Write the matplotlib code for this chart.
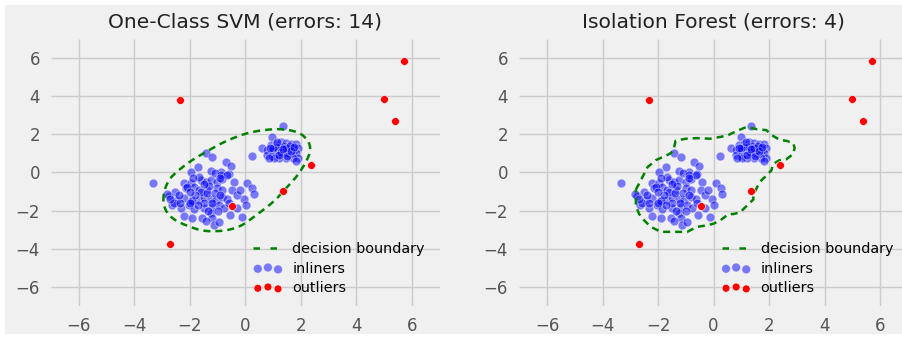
import numpy as np
import matplotlib
matplotlib.use("Agg")
import matplotlib.pyplot as plt
from matplotlib.path import Path
from matplotlib.patches import PathPatch, Rectangle
from matplotlib.lines import Line2D

plt.style.use("fivethirtyeight")
plt.rcParams["font.family"] = ["DejaVu Sans"]

# ---- data -------------------------------------------------------------
inlier_x = [
    -1.43, -1.19, -0.71, -0.53, -1.70, -1.97, -1.23, -0.89, -0.59, -3.32,
    -2.21, -1.97, -1.61, -1.43, -1.25, -1.01, -0.83, -0.41, 0.07, 0.25,
    -2.52, -2.15, -1.85, -1.67, -1.37, -1.01, -0.83, -0.47, 0.31, -2.76,
    -2.45, -2.21, -1.91, -1.67, -1.49, -1.25, -1.07, -0.83, -0.65, -0.05,
    0.01, -2.64, -2.33, -2.03, -1.85, -1.49, -1.19, -0.95, -0.77, -2.21,
    -1.91, -1.55, -1.25, -1.19, -0.55, -0.14, -1.13, -0.95, -1.43, -1.67,
    -2.82, -2.09, -2.58, -2.34, -1.91, -1.11, -0.87, -0.65, -0.31, -1.49,
    -1.60, -1.40, -1.30, -1.10, -1.80, -2.00, -1.50, -0.90, -1.20, -1.70,
    -2.40, -1.00, -0.60, -1.35, -2.00, -0.30, -0.20, -0.90, -1.90, -2.70,
    # right-hand cluster
    1.34, 0.23, 0.97, 0.61, 0.79, 0.91, 1.09, 1.27, 1.45, 1.64,
    1.82, 1.88, 1.70, 1.52, 1.34, 1.16, 0.97, 0.79, 0.97, 1.16,
    1.34, 1.52, 1.70, 1.82, 1.88, 1.70, 1.45, 1.21, 1.03, 0.85,
    1.82, 1.25, 1.40, 1.55, 1.10, 1.30, 1.45, 1.60, 1.20, 1.50,
    1.00, 1.35, 1.65, 1.75, 0.90, 1.15,
]
inlier_y = [
    1.03, 0.80, 0.55, 0.34, 0.29, 0.00, 0.09, 0.00, -0.10, -0.56,
    -0.56, -0.53, -0.39, -0.48, -0.39, -0.48, -0.36, -0.48, -0.56, -0.82,
    -1.04, -0.82, -0.74, -0.91, -0.91, -0.82, -0.91, -0.94, -1.11, -1.21,
    -1.42, -1.33, -1.42, -1.42, -1.28, -1.38, -1.42, -1.28, -1.38, -1.38,
    -1.68, -1.73, -1.85, -1.68, -1.93, -1.85, -1.79, -1.73, -1.85, -2.27,
    -2.39, -2.39, -2.10, -2.41, -2.22, -2.31, -2.75, -2.62, -2.53, -0.22,
    -1.11, -0.77, -1.59, -1.59, -1.51, -0.02, -0.14, -0.14, -1.85, -1.59,
    -1.00, -1.10, -0.70, -1.10, -1.20, -1.00, -0.60, -1.20, -1.60, -1.70,
    -1.20, -2.00, -1.60, -2.00, -1.60, -1.20, -0.90, -0.30, -0.30, -1.40,
    # right-hand cluster
    2.41, 0.87, 1.85, 1.28, 1.16, 1.42, 1.50, 1.59, 1.55, 1.50,
    1.50, 1.25, 1.25, 1.28, 1.25, 1.21, 1.11, 0.90, 0.87, 0.94,
    0.99, 0.99, 0.99, 0.99, 0.73, 0.77, 0.77, 0.73, 0.73, 0.77,
    0.59, 1.35, 1.40, 1.15, 1.35, 1.05, 1.30, 1.40, 0.90, 0.85,
    1.25, 1.20, 1.10, 1.35, 1.30, 1.60,
]
outlier_x = [-2.34, 4.99, 5.71, 5.39, 2.38, 1.34, -0.47, -2.70]
outlier_y = [3.81, 3.86, 5.81, 2.68, 0.41, -0.96, -1.76, -3.73]

# One-Class SVM decision boundary (closed curve through these nodes)
svm_bx = [-2.94, -2.88, -2.58, -2.09, -1.49, -0.77, -0.17, 0.43, 1.03, 1.52,
          1.88, 2.18, 2.33, 2.24, 1.88, 1.16, 0.19, -0.65, -1.43, -2.09, -2.70]
svm_by = [-1.16, -1.93, -2.44, -2.79, -3.05, -3.04, -2.79, -2.19, -1.50, -0.74,
          -0.14, 0.55, 1.15, 1.66, 2.09, 2.26, 2.09, 1.66, 1.06, 0.46, -0.31]

# Isolation Forest decision boundary (closed polyline)
iso_bx = [-2.80, -2.62, -2.38, -2.08, -1.61, -1.45, -1.37, -1.01, -0.60, -0.12,
          0.30, 0.54, 0.83, 1.19, 1.55, 1.90, 2.08, 2.38, 2.62, 2.86,
          2.92, 2.86, 2.62, 2.38, 2.14, 2.08, 1.85, 1.67, 1.55, 1.43,
          1.43, 1.19, 0.95, 0.71, 0.54, 0.24, 0.00, -0.24, -0.60, -0.95,
          -1.37, -1.90, -2.26, -2.50, -2.68, -2.80, -2.80]
iso_by = [-0.91, -0.41, 0.27, 0.64, 0.95, 1.11, 1.65, 1.76, 1.79, 1.76,
          1.87, 1.96, 2.16, 2.38, 2.26, 2.21, 1.96, 1.70, 1.65, 1.54,
          1.28, 0.95, 0.69, 0.64, 0.44, 0.10, -0.24, -0.49, -0.83, -1.16,
          -1.42, -1.76, -2.09, -2.18, -2.18, -2.51, -2.68, -2.77, -2.85, -3.11,
          -3.11, -3.11, -2.85, -2.51, -2.18, -1.76, -1.33]

titles = ["One-Class SVM (errors: 14)", "Isolation Forest (errors: 4)"]
ticks = [-6, -4, -2, 0, 2, 4, 6]

BG = "#f0f0f0"
BOUNDARY = "green"


def smooth_closed_path(xs, ys):
    """Closed Catmull-Rom curve through the nodes, as cubic Bezier segments."""
    p = np.column_stack([xs, ys])
    n = len(p)
    verts = [p[0]]
    codes = [Path.MOVETO]
    for i in range(n):
        p0, p1, p2, p3 = p[i - 1], p[i], p[(i + 1) % n], p[(i + 2) % n]
        verts += [p1 + (p2 - p0) / 6.0, p2 - (p3 - p1) / 6.0, p2]
        codes += [Path.CURVE4] * 3
    return Path(verts, codes)


def polyline_closed_path(xs, ys):
    p = np.column_stack([xs, ys])
    verts = np.vstack([p, p[:1]])
    codes = [Path.MOVETO] + [Path.LINETO] * (len(p) - 1) + [Path.LINETO]
    return Path(verts, codes)


W, H = 903, 338
fig = plt.figure(figsize=(W / 100, H / 100), dpi=100, facecolor="white")
# grey canvas with a thin white margin on the left, top and bottom
fig.patches.append(Rectangle((5 / W, 4 / H), 1 - 5 / W, 1 - 9 / H,
                             transform=fig.transFigure, facecolor=BG,
                             edgecolor="none", zorder=-10))

ax_rects = [[0.0565, 0.094, 0.4305, 0.792], [0.5750, 0.094, 0.4305, 0.792]]
paths = [smooth_closed_path(svm_bx, svm_by), polyline_closed_path(iso_bx, iso_by)]

for rect, title, path in zip(ax_rects, titles, paths):
    ax = fig.add_axes(rect)
    ax.set_facecolor(BG)
    ax.grid(True, color="#cbcbcb", linewidth=1.0)
    ax.set_axisbelow(True)
    for s in ax.spines.values():
        s.set_visible(False)

    ax.add_patch(PathPatch(path, fill=False, edgecolor=BOUNDARY, linewidth=1.8,
                           linestyle=(0, (2.8, 2.0)), zorder=3))
    inl = ax.scatter(inlier_x, inlier_y, s=40, c="blue", alpha=0.5,
                     edgecolors="white", linewidths=0.6, zorder=2)
    outl = ax.scatter(outlier_x, outlier_y, s=32, c="red",
                      edgecolors="white", linewidths=0.4, zorder=4)

    ax.set_xlim(-7, 7)
    ax.set_ylim(-7, 7)
    ax.set_xticks(ticks)
    ax.set_yticks(ticks)
    ax.tick_params(length=0, labelsize=12, labelcolor="#555555", pad=8)
    ax.set_title(title, fontsize=14.6, color="#222222", pad=8)

    proxy = Line2D([], [], color=BOUNDARY, linewidth=1.8, linestyle=(0, (2.6, 4.2)))
    ax.legend([proxy, inl, outl], ["decision boundary", "inliners", "outliers"],
              loc="lower right", fontsize=10.4, frameon=False, scatterpoints=3,
              handlelength=2.0, handletextpad=0.7, labelspacing=0.38,
              borderaxespad=0.3, bbox_to_anchor=(0.988, 0.004))

fig.savefig("out.png", dpi=100, facecolor="white")
